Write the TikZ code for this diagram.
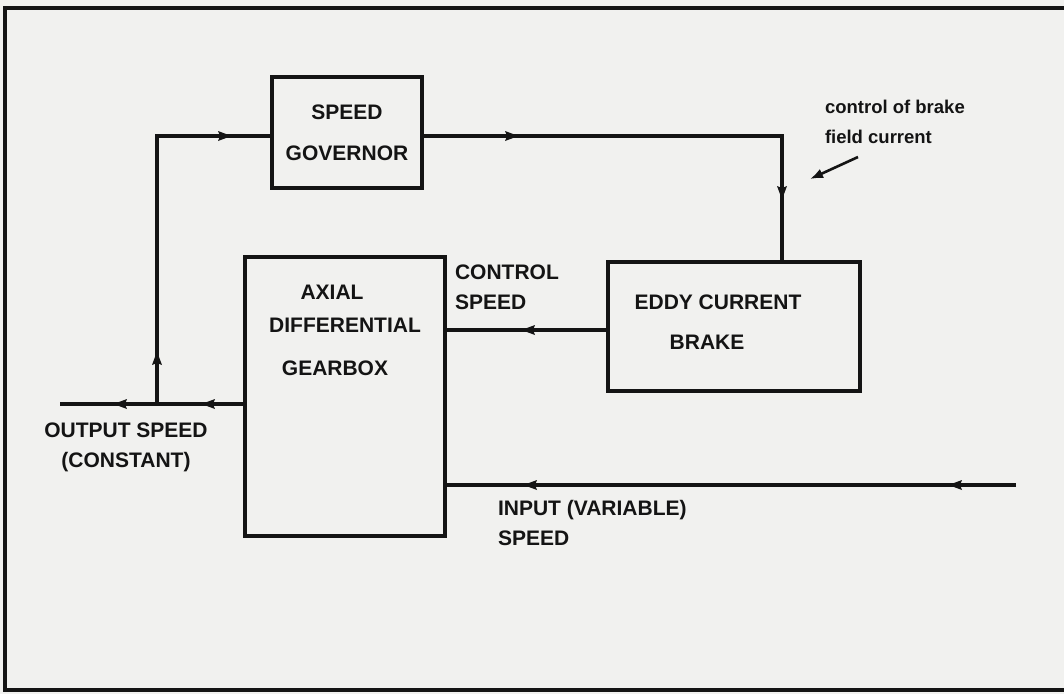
\documentclass[tikz,border=0pt]{standalone}
\usepackage{fontspec}
\setmainfont{Liberation Sans}
\usetikzlibrary{arrows.meta,decorations.markings}
\definecolor{paper}{RGB}{241,241,239}
\definecolor{ink}{RGB}{20,20,20}
\newcommand\mytri{\fill[ink] (1.5pt,0pt) -- (-12pt,5pt) -- (-10pt,0pt) -- (-12pt,-5pt) -- cycle;}
\begin{document}
\begin{tikzpicture}[x=1pt,y=-1pt,
  every node/.style={inner sep=0pt, outer sep=0pt, text=ink},
  blk/.style={draw=ink, line width=3.2pt},
  wire/.style={draw=ink, line width=3.2pt},
  lbl/.style={font=\bfseries\fontsize{21}{30}\selectfont},
  note/.style={font=\bfseries\fontsize{18.5}{30}\selectfont, align=left}
]
\fill[paper] (0,0) rectangle (1064,694);
\useasboundingbox (0,0) rectangle (1064,694);
% frame
\draw[wire] (1064,8) -- (5,8) -- (5,690) -- (1064,690);

% blocks
\node[blk, minimum width=150pt, minimum height=111pt, align=center,
      font=\bfseries\fontsize{21}{41}\selectfont] (gov) at (347,132.5) {SPEED\\GOVERNOR};
\node[blk, minimum width=252pt, minimum height=129pt] (brake) at (734,326.5) {};
\node[blk, minimum width=200pt, minimum height=279pt] (gear) at (345,396.5) {};

% texts inside blocks
\node[lbl] (bt1) at (718,302) {EDDY CURRENT};
\node[lbl] (bt2) at (707,342) {BRAKE};
\node[lbl] (gt1) at (332,292) {AXIAL};
\node[lbl] (gt2) at (345,325) {DIFFERENTIAL};
\node[lbl] (gt3) at (335,368) {GEARBOX};

% labels
\node[lbl, align=left, anchor=west] (ctl) at (455,287) {CONTROL\\SPEED};
\node[lbl, align=center] (outl) at (126,447) {OUTPUT SPEED\\(CONSTANT)};
\node[lbl, align=left, anchor=west] (inl) at (498,523) {INPUT (VARIABLE)\\SPEED};
\node[note, anchor=west] (fld) at (825,122) {control of brake\\field current};

% coordinates
\coordinate (jn) at (157,404);
\coordinate (outEnd) at (60,404);
\coordinate (govIn) at ([yshift=-3.5pt]gov.west);
\coordinate (govOut) at ([yshift=-3.5pt]gov.east);
\coordinate (corner) at (782,136);
\coordinate (brakeOut) at ([yshift=-3.5pt]brake.west);
\coordinate (inStart) at (1016,485);
\coordinate (fldA) at (858,157);
\coordinate (fldB) at (810,179);

% output line
\draw[wire, decoration={markings,
    mark=at position 42pt with {\mytri},
    mark=at position 130pt with {\mytri}}, postaction={decorate}]
  (gear.west |- jn) -- (outEnd);
% feedback to governor
\draw[wire, decoration={markings,
    mark=at position 51pt with {\mytri},
    mark=at position 341pt with {\mytri}}, postaction={decorate}]
  (jn) -- (jn |- govIn) -- (govIn);
% governor to brake
\draw[wire, decoration={markings,
    mark=at position 95pt with {\mytri},
    mark=at position 422pt with {\mytri}}, postaction={decorate}]
  (govOut) -- (corner) -- (corner |- brake.north);
% brake to gearbox
\draw[wire, decoration={markings,
    mark=at position 85pt with {\mytri}}, postaction={decorate}]
  (brakeOut) -- (gear.east |- brakeOut);
% input
\draw[wire, decoration={markings,
    mark=at position 66pt with {\mytri},
    mark=at position 491pt with {\mytri}}, postaction={decorate}]
  (inStart) -- (gear.east |- inStart);
% control pointer
\draw[ink, line width=2.6pt, -{Latex[length=13pt,width=10pt]}] (fldA) -- (fldB);
\end{tikzpicture}
\end{document}
